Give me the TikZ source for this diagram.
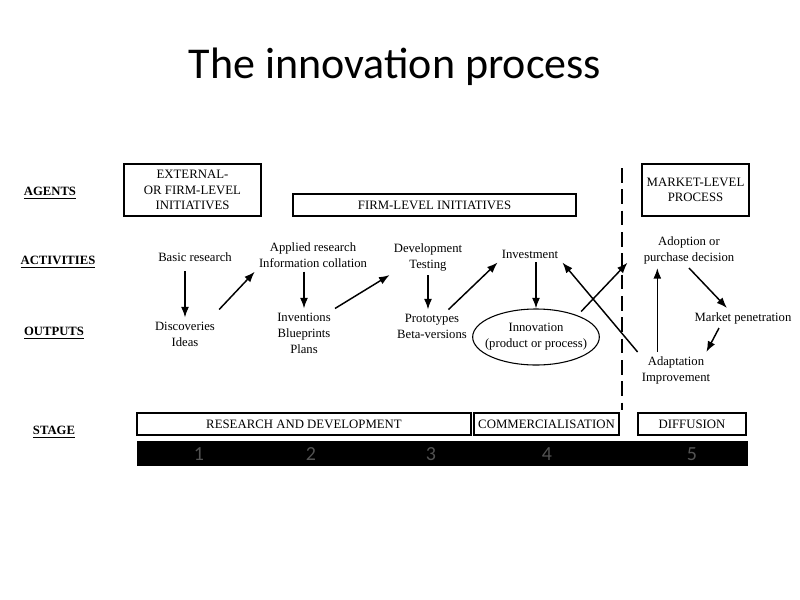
\documentclass[tikz,border=0pt]{standalone}
\usepackage{fontspec}
\setmainfont{Liberation Serif}
\newfontfamily\titlefont{Carlito}
\usetikzlibrary{arrows.meta,shapes.geometric}

\tikzset{
  rowlabel/.style={font=\fontsize{9.5}{11}\selectfont\bfseries, inner sep=0pt},
  txt/.style={align=center, font=\fontsize{9.5}{12}\selectfont, inner sep=3pt},
  agentbox/.style={draw, line width=0.9pt, align=center, inner sep=0pt,
    font=\fontsize{9.6}{11.5}\selectfont},
  stagebox/.style={draw, line width=0.8pt, inner sep=0pt, minimum height=16.5pt,
    font=\fontsize{9.6}{11}\selectfont},
  stagenum/.style={font=\titlefont\fontsize{15}{15}\selectfont, text=black!68},
  flow/.style={-{Latex[length=8pt,width=6pt]}, line width=1.1pt}
}

\begin{document}
\begin{tikzpicture}[x=0.75pt, y=-0.75pt]
\useasboundingbox (0,0) rectangle (800,600);

\node[font=\titlefont\fontsize{33}{33}\selectfont] (title) at (395,67) {The innovation process};

% row labels
\node[rowlabel] (agents) at (50,193) {\underline{AGENTS}};
\node[rowlabel] (activities) at (58,262) {\underline{ACTIVITIES}};
\node[rowlabel] (outputs) at (54,333) {\underline{OUTPUTS}};
\node[rowlabel] (stage) at (54,432) {\underline{STAGE}};

% agents
\node[agentbox, minimum width=102.75pt, minimum height=39pt] (external) at (192.5,190)
  {EXTERNAL-\\OR FIRM-LEVEL\\INITIATIVES};
\node[agentbox, minimum width=212.25pt, minimum height=16.5pt] (firm) at (434.5,205)
  {FIRM-LEVEL INITIATIVES};
\node[agentbox, minimum width=80.25pt, minimum height=39pt] (market) at (695.5,190)
  {MARKET-LEVEL\\PROCESS};

% activities
\node[txt] (basic) at (195,257) {Basic research};
\node[txt] (applied) at (313,255) {Applied research\\Information collation};
\node[txt] (dev) at (428,257) {Development\\Testing};
\node[txt] (invest) at (530,254) {Investment};
\node[txt] (adopt) at (689,250) {Adoption or\\purchase decision};

% outputs
\node[txt] (disc) at (185,334) {Discoveries\\Ideas};
\node[txt] (inv) at (304,333) {Inventions\\Blueprints\\Plans};
\node[txt] (proto) at (432,326) {Prototypes\\Beta-versions};
\node[txt, draw, ellipse, line width=0.8pt, inner xsep=-6pt, inner ysep=0pt, minimum width=95pt,
  minimum height=42pt] (innov) at (536,337) {Innovation\\(product or process)};
\node[txt] (mkt) at (743,318) {Market penetration};
\node[txt] (adapt) at (676,370) {Adaptation\\Improvement};

% stages
\node[stagebox, minimum width=250.5pt] (rd) at (304,424) {RESEARCH AND DEVELOPMENT};
\node[stagebox, minimum width=108.75pt] (comm) at (546.5,424) {COMMERCIALISATION};
\node[stagebox, minimum width=81pt] (diff) at (692,424) {DIFFUSION};
\node[fill=black, minimum width=458.25pt, minimum height=18.75pt, inner sep=0pt] (bar) at (442.5,453.5) {};
\node[stagenum] (s1) at (199,454) {1};
\node[stagenum] (s2) at (311,454) {2};
\node[stagenum] (s3) at (431,454) {3};
\node[stagenum] (s4) at (547,454) {4};
\node[stagenum] (s5) at (692,454) {5};

% divider
\coordinate (divtop) at (622,168);
\coordinate (divbot) at (622,410);
\draw[line width=2pt, dash pattern=on 11pt off 5pt] (divtop) -- (divbot);

% flows
\draw[flow, shorten <=4pt] (basic.south -| disc.north) -- (disc.north);
\draw[flow] ([yshift=6pt]disc.north east) -- (applied.south west);
\draw[flow] (applied.south -| inv.north) -- (inv.north);
\draw[flow] (inv.north east) -- (dev.south west);
\draw[flow] (dev.south) -- (dev.south |- proto.north);
\draw[flow] (proto.45) -- (invest.south west);
\draw[flow] (invest.south -| innov.north) -- (innov.north);
\draw[flow] ([yshift=4pt]innov.north east) -- ([xshift=-9pt,yshift=4pt]adopt.south west);
\draw[flow] (adapt.north west) -- (invest.south east);
\draw[flow] ([xshift=-14pt]adapt.north) -- ([xshift=-14pt]adapt.north |- adopt.south);
\draw[flow] (adopt.south) -- ([xshift=-12pt]mkt.north);
\draw[flow] ([xshift=-18pt]mkt.south) -- ([xshift=-6pt]adapt.north east);
\end{tikzpicture}
\end{document}
